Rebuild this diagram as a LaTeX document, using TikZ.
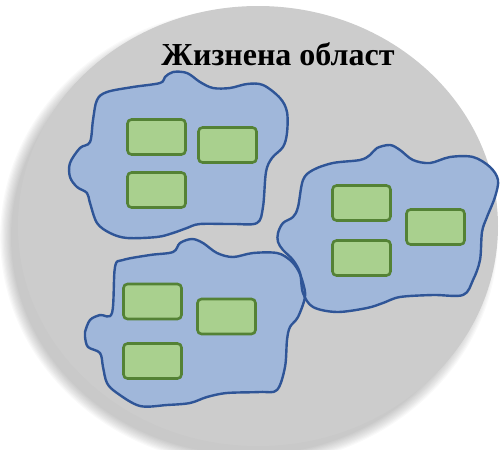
\documentclass[tikz,border=0pt]{standalone}
\usepackage{fontspec}
\setmainfont{Liberation Serif}
\usepackage{tikz}
\usetikzlibrary{positioning}

\definecolor{discgray}{RGB}{204,204,204}
\definecolor{blobfill}{RGB}{160,183,218}
\definecolor{blobline}{RGB}{47,85,151}
\definecolor{cellfill}{RGB}{169,208,142}
\definecolor{cellline}{RGB}{84,130,53}

\tikzset{
  cell/.style={draw=cellline, fill=cellfill, line width=2.6pt, rounded corners=4pt,
    minimum width=58pt, minimum height=35pt, inner sep=0pt},
  blob/.style={fill=blobfill, smooth cycle, tension=0.55},
  blobedge/.style={draw=blobline, line width=2.4pt, smooth cycle, tension=0.55}
}

\begin{document}
\begin{tikzpicture}[x=1pt, y=-1pt]
  \useasboundingbox (0,0) rectangle (501,450);
  % soft shadow of the disc
  \foreach \r in {0,2,...,18}
    \fill[black, opacity=0.025] (249,237) ellipse ({238+\r*0.6} and {218+\r*0.6});
  \fill[discgray] (258,226) ellipse (240 and 220);

  % the three regions
  \foreach \pts in {
    {(70,163) (80,148) (90,142) (93,120) (97,100) (107,92) (133,87) (160,83) (165,77) (173,72) (187,73) (200,82) (213,88) (230,88) (247,84) (263,85) (280,98) (287,112) (287,133) (283,147) (272,158) (266,172) (263,207) (257,223) (233,224) (200,224) (187,228) (173,233) (157,237) (127,238) (110,233) (97,223) (90,203) (87,193) (77,187) (70,177)},
    {(278,233) (283,223) (293,217) (298,207) (303,180) (313,170) (333,163) (360,160) (370,155) (377,148) (390,145) (400,150) (413,160) (430,163) (450,157) (473,157) (490,167) (498,180) (495,197) (487,217) (482,232) (480,260) (473,280) (463,295) (433,295) (400,297) (383,303) (367,308) (337,312) (313,307) (303,293) (300,273) (293,260) (283,250) (278,242)},
    {(85,332) (90,320) (100,315) (112,313) (115,267) (123,260) (150,255) (173,252) (180,243) (192,239) (203,243) (217,253) (233,257) (253,253) (277,253) (290,260) (298,270) (303,283) (305,297) (298,317) (290,327) (287,340) (285,367) (277,390) (260,392) (227,393) (207,397) (190,403) (167,405) (140,406) (117,393) (107,383) (103,367) (100,353) (88,347) (85,337)}}
    \fill[blob] plot coordinates \pts;
  \foreach \pts in {
    {(70,163) (80,148) (90,142) (93,120) (97,100) (107,92) (133,87) (160,83) (165,77) (173,72) (187,73) (200,82) (213,88) (230,88) (247,84) (263,85) (280,98) (287,112) (287,133) (283,147) (272,158) (266,172) (263,207) (257,223) (233,224) (200,224) (187,228) (173,233) (157,237) (127,238) (110,233) (97,223) (90,203) (87,193) (77,187) (70,177)},
    {(278,233) (283,223) (293,217) (298,207) (303,180) (313,170) (333,163) (360,160) (370,155) (377,148) (390,145) (400,150) (413,160) (430,163) (450,157) (473,157) (490,167) (498,180) (495,197) (487,217) (482,232) (480,260) (473,280) (463,295) (433,295) (400,297) (383,303) (367,308) (337,312) (313,307) (303,293) (300,273) (293,260) (283,250) (278,242)},
    {(85,332) (90,320) (100,315) (112,313) (115,267) (123,260) (150,255) (173,252) (180,243) (192,239) (203,243) (217,253) (233,257) (253,253) (277,253) (290,260) (298,270) (303,283) (305,297) (298,317) (290,327) (287,340) (285,367) (277,390) (260,392) (227,393) (207,397) (190,403) (167,405) (140,406) (117,393) (107,383) (103,367) (100,353) (88,347) (85,337)}}
    \draw[blobedge] plot coordinates \pts;

  \node[font=\bfseries\fontsize{32}{36}\selectfont, anchor=base] (title) at (278,65) {Жизнена област};

  \node[cell] (a1) at (156.5,137) {};
  \node[cell] (a2) at (227.5,145) {};
  \node[cell] (a3) at (156.5,190) {};
  \node[cell] (b1) at (361.5,203) {};
  \node[cell] (b2) at (435.5,227) {};
  \node[cell] (b3) at (361.5,258) {};
  \node[cell] (c1) at (152.5,301.5) {};
  \node[cell] (c2) at (226.5,316.5) {};
  \node[cell] (c3) at (152.5,361) {};
\end{tikzpicture}
\end{document}
